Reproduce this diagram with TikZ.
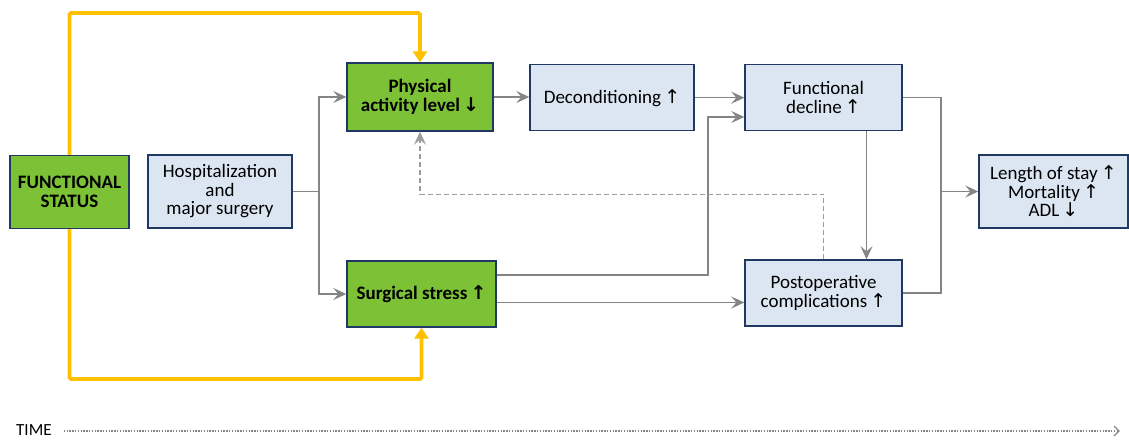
\documentclass[tikz,border=0pt]{standalone}
\usepackage{fontspec}
\setmainfont{Carlito}
\newfontfamily\arr{DejaVu Sans}
\usetikzlibrary{arrows.meta,calc}
\definecolor{gfill}{HTML}{7DC236}
\definecolor{bfill}{HTML}{DCE6F2}
\definecolor{bord}{HTML}{1F3864}
\definecolor{ylw}{HTML}{FFC000}
\definecolor{gline}{HTML}{858585}
\newcommand{\up}{{\arr\fontsize{19}{18}\selectfont\,↑}}
\newcommand{\dn}{{\arr\fontsize{19}{18}\selectfont\,↓}}
\tikzset{
  box/.style={draw=bord, line width=1.4pt, align=center, inner sep=2pt,
    font=\fontsize{19}{18.5}\selectfont},
  gbox/.style={box, fill=gfill, font=\fontsize{19}{18.5}\selectfont\bfseries},
  bbox/.style={box, fill=bfill},
  garrow/.style={draw=gline, line width=1.3pt, -{Stealth[length=13pt,width=12pt,inset=5pt]}},
  gline/.style={draw=gline, line width=1.3pt},
  yarrow/.style={draw=ylw, line width=3.6pt, rounded corners=1.5pt, -{Triangle[length=11pt,width=14pt]}},
}
\begin{document}
\begin{tikzpicture}[x=1pt,y=-1pt]
\useasboundingbox (0,0) rectangle (1129,439);
\node[gbox, minimum width=119pt, minimum height=73pt] (fs) at (69.5,192) {FUNCTIONAL\\STATUS};
\node[bbox, minimum width=144pt, minimum height=73pt] (hosp) at (220,191.5) {Hospitalization\\and\\major surgery};
\node[gbox, minimum width=146pt, minimum height=68pt] (pa) at (420,97) {Physical\\activity level\dn};
\node[gbox, minimum width=149pt, minimum height=66pt] (ss) at (421.5,294) {Surgical stress\up};
\node[bbox, minimum width=164pt, minimum height=66pt] (dec) at (612,97.7) {Deconditioning\up};
\node[bbox, minimum width=157pt, minimum height=66pt] (fd) at (823.5,97.7) {Functional\\decline\up};
\node[bbox, minimum width=157pt, minimum height=66pt] (po) at (823.5,293) {Postoperative\\complications\up};
\node[bbox, minimum width=149pt, minimum height=73pt] (out) at (1053.5,191.5) {Length of stay\up\\Mortality\up\\ADL\dn};
% yellow
\draw[yarrow] (fs.north) -- (fs.north |- 0,13) -| (pa.north);
\draw[yarrow] (fs.south) -- (fs.south |- 0,379) -| (ss.south);
% hospitalization split
\coordinate (hj) at (319,191.5);
\draw[gline] (hosp.east) -- (hj);
\draw[garrow] (hj) |- (pa.west);
\draw[garrow] (hj) |- (ss.west);
% chain
\draw[garrow] (pa.east) -- (pa.east -| dec.west);
\draw[garrow] (dec.east) -- (fd.west);
\coordinate (s1) at ($(ss.east)+(0,-19)$);
\coordinate (f1) at ($(fd.west)+(0,19.3)$);
\draw[garrow] (s1) -| (708,200) |- (f1);
\coordinate (s2) at ($(ss.east)+(0,8.5)$);
\draw[garrow] (s2) -- (s2 -| po.west);
\draw[garrow] ($(fd.south)+(43,0)$) -- ($(po.north)+(43,0)$);
\draw[draw=gline!80, line width=1.1pt, dash pattern=on 5pt off 3pt, -{Stealth[length=13pt,width=12pt,inset=5pt]}]
  (po.north) -- ++(0,-65) -| (pa.south);
% outcomes
\coordinate (oj) at (941,191.5);
\draw[gline] (fd.east) -| (oj) |- (po.east);
\draw[garrow] (oj) -- (out.west);
% time
\node[anchor=west, inner sep=0pt, font=\fontsize{17}{17}\selectfont] (time) at (16,430.5) {TIME};
\coordinate (tend) at (1119,431);
\draw[draw=gline, line width=1.4pt, dash pattern=on 1.4pt off 1.4pt] ($(time.east)+(12,0.5)$) -- (tend);
\draw[draw=gline, line width=1.2pt] ($(tend)+(-5,-5)$) -- (tend) -- ($(tend)+(-5,5)$);
\end{tikzpicture}
\end{document}
